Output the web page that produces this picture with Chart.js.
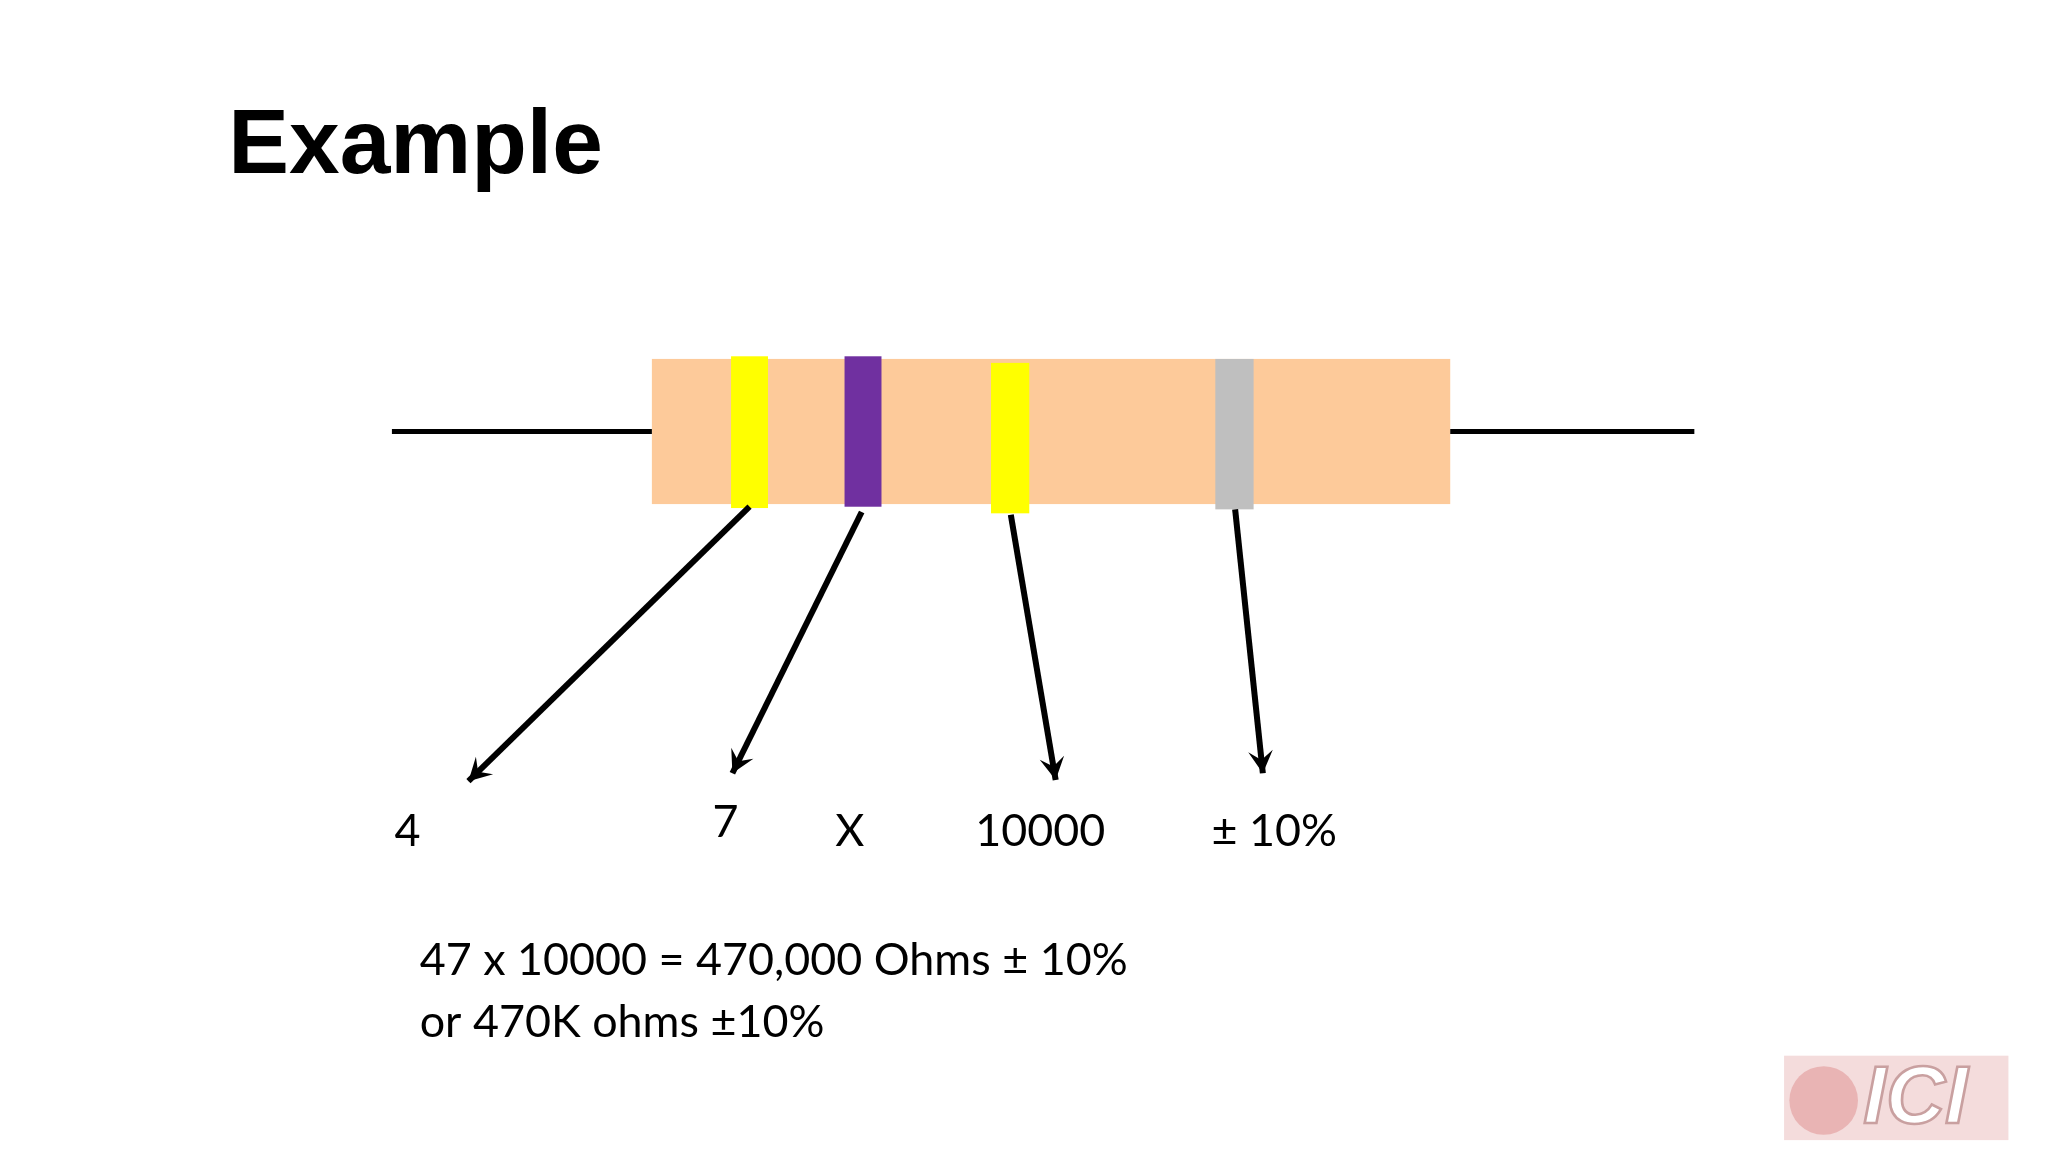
<!DOCTYPE html>
<html>
<head>
<meta charset="utf-8">
<script src="https://cdn.jsdelivr.net/npm/chart.js@4.4.1/dist/chart.umd.min.js"></script>
<style>
  html, body { margin: 0; padding: 0; background: #fff; }
  #wrap { width: 2048px; height: 1152px; }
</style>
</head>
<body>
<div id="wrap"><canvas id="slide"></canvas></div>
<script>
// slide units (1552 x 873 layout)
const leads = [[297, 327, 494, 327], [1099, 327, 1284, 327]];
const bodyRect = [494, 272, 1099, 382];
const bandColors = ['#ffff00', '#7030a0', '#ffff00', '#bfbfbf'];
const bandRects = [[554, 270, 582, 385], [640, 270, 668, 384], [751, 275, 780, 389], [921, 272, 950, 386]];
const arrows = [[568, 384, 355, 592], [653, 388, 555, 586], [766, 390, 800, 591], [936, 386, 957, 586]];
const bandLabels = ['4', '7', 'X', '10000', '± 10%'];
const labelPos = [[299, 630], [540, 623], [633, 630], [739, 630], [918, 630]];
const resultLines = ['47 x 10000 = 470,000 Ohms ± 10%', 'or 470K ohms ±10%'];

const lineSets = leads.concat(arrows).map((a, i) => ({
    data: [{x: a[0], y: a[1]}, {x: a[2], y: a[3]}],
    showLine: true,
    borderColor: '#000',
    borderWidth: i < 2 ? 5 : 6,
    pointRadius: 0,
    order: i < 2 ? 3 : 0
}));

const slidePlugin = {
    id: 'slide',
    beforeDatasetsDraw(chart) {
        const ctx = chart.ctx, sx = chart.scales.x, sy = chart.scales.y;
        const rect = (r, c) => {
            const x0 = sx.getPixelForValue(r[0]), y0 = sy.getPixelForValue(r[1]);
            ctx.fillStyle = c;
            ctx.fillRect(x0, y0, sx.getPixelForValue(r[2]) - x0, sy.getPixelForValue(r[3]) - y0);
        };
        rect(bodyRect, '#fdca9a');
        bandRects.forEach((r, i) => rect(r, bandColors[i]));
    },
    afterDatasetsDraw(chart) {
        const ctx = chart.ctx, sx = chart.scales.x, sy = chart.scales.y;
        const k = chart.width / 1552;
        // arrow heads
        arrows.forEach(a => {
            const x = sx.getPixelForValue(a[2]), y = sy.getPixelForValue(a[3]);
            const ang = Math.atan2(y - sy.getPixelForValue(a[1]), x - sx.getPixelForValue(a[0]));
            const L = 17 * k;
            ctx.save();
            ctx.translate(x, y);
            ctx.rotate(ang);
            ctx.fillStyle = '#000';
            ctx.beginPath();
            ctx.moveTo(0, 0);
            ctx.lineTo(-L, -L * 0.55);
            ctx.lineTo(-L * 0.6, 0);
            ctx.lineTo(-L, L * 0.55);
            ctx.closePath();
            ctx.fill();
            ctx.restore();
        });
        // texts
        ctx.textBaseline = 'middle';
        ctx.textAlign = 'left';
        ctx.fillStyle = '#000';
        ctx.font = 'bold ' + (69 * k) + 'px "Liberation Sans", Arial, sans-serif';
        ctx.fillText('Example', sx.getPixelForValue(173), sy.getPixelForValue(112));
        ctx.font = (34 * k) + 'px Lato, "Open Sans", sans-serif';
        bandLabels.forEach((t, i) => {
            ctx.fillText(t, sx.getPixelForValue(labelPos[i][0]), sy.getPixelForValue(labelPos[i][1]));
        });
        resultLines.forEach((t, i) => {
            ctx.fillText(t, sx.getPixelForValue(318), sy.getPixelForValue(728 + i * 47));
        });
        // logo
        const lx = sx.getPixelForValue(1352), ly = sy.getPixelForValue(800);
        ctx.fillStyle = '#f4dcdc';
        ctx.fillRect(lx, ly, 170 * k, 64 * k);
        ctx.fillStyle = '#e9b4b4';
        ctx.beginPath();
        ctx.arc(lx + 30 * k, ly + 34 * k, 26 * k, 0, Math.PI * 2);
        ctx.fill();
        ctx.fillStyle = '#ffffff';
        ctx.strokeStyle = '#c9a0a0';
        ctx.lineWidth = 2 * k;
        ctx.font = 'italic bold ' + (62 * k) + 'px "Liberation Sans", sans-serif';
        ctx.fillText('ICI', lx + 60 * k, ly + 34 * k);
        ctx.strokeText('ICI', lx + 60 * k, ly + 34 * k);
    }
};

new Chart(document.getElementById('slide'), {
    type: 'scatter',
    data: { datasets: lineSets },
    options: {
        responsive: true,
        maintainAspectRatio: false,
        animation: false,
        layout: { padding: 0 },
        plugins: { legend: { display: false }, tooltip: { enabled: false } },
        scales: {
            x: { type: 'linear', min: 0, max: 1552, display: false },
            y: { type: 'linear', min: 0, max: 873, reverse: true, display: false }
        }
    },
    plugins: [slidePlugin]
});
</script>
</body>
</html>
